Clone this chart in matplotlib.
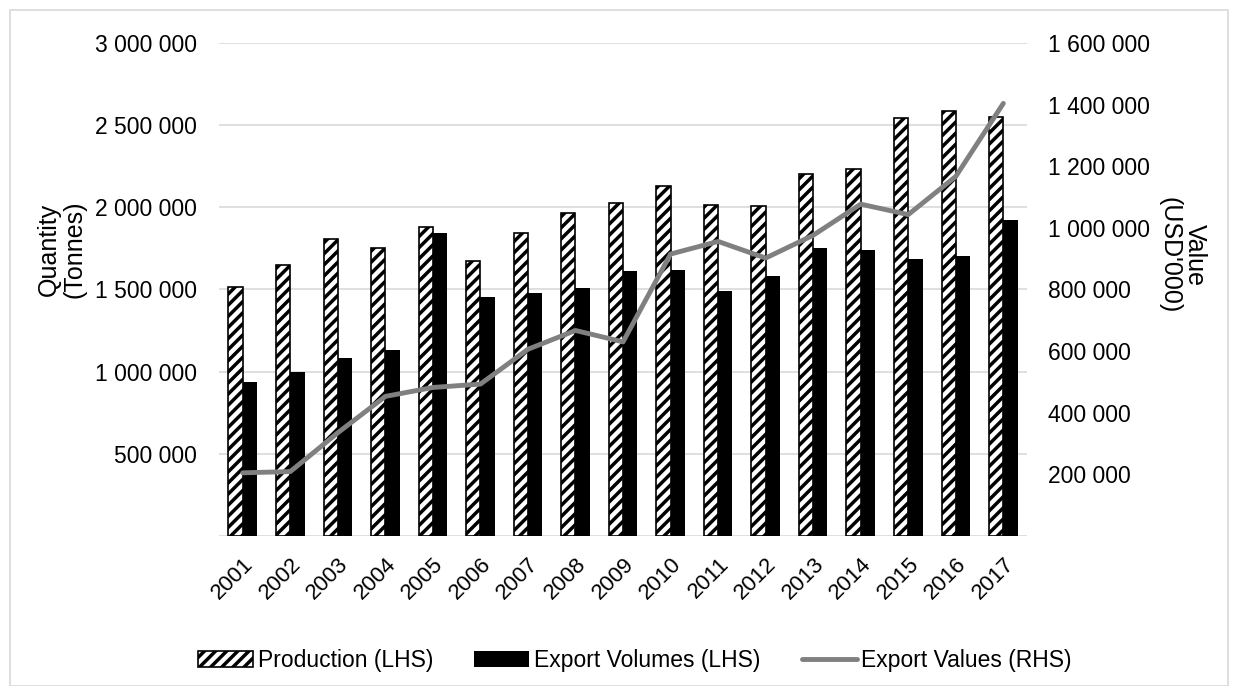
import matplotlib.pyplot as plt
import matplotlib.patches as mpatches
from matplotlib.lines import Line2D
from matplotlib.ticker import FuncFormatter
import numpy as np

plt.rcParams['font.family'] = ['Liberation Sans', 'DejaVu Sans']
plt.rcParams['hatch.linewidth'] = 2.5

years = ['2001', '2002', '2003', '2004', '2005', '2006', '2007', '2008', '2009',
         '2010', '2011', '2012', '2013', '2014', '2015', '2016', '2017']
production = [1518000, 1650000, 1807000, 1753000, 1880000, 1676000, 1842000, 1963000, 2028000,
              2127000, 2012000, 2008000, 2202000, 2232000, 2545000, 2584000, 2550000]
export_volumes = [936000, 995000, 1086000, 1130000, 1842000, 1454000, 1480000, 1510000, 1611000,
                  1620000, 1488000, 1581000, 1753000, 1743000, 1684000, 1702000, 1925000]
export_values = [205000, 209000, 335000, 453000, 482000, 493000, 606000, 667000, 630000,
                 915000, 956000, 902000, 976000, 1077000, 1043000, 1167000, 1404000]


def spaced(v, pos):
    if v == 0:
        return ''
    return f'{int(v):,}'.replace(',', ' ')


fig = plt.figure(figsize=(12.33, 6.86), dpi=100)
ax = fig.add_axes([0.1776, 0.2187, 0.833 - 0.1776, 0.9373 - 0.2187])
ax2 = ax.twinx()

x = np.arange(len(years))
w = 0.3
ax.bar(x - w / 2, production, w, color='white', edgecolor='black', hatch='///', linewidth=1.2, zorder=2)
ax.bar(x + w / 2, export_volumes, w, color='black', zorder=2)
ax2.plot(x, export_values, color='#808080', linewidth=3.5, solid_capstyle='round')

ax.set_xlim(-0.5, len(years) - 0.5)
ax.set_ylim(0, 3000000)
ax.set_yticks(np.arange(0, 3000001, 500000))
ax.yaxis.set_major_formatter(FuncFormatter(spaced))
ax2.set_ylim(0, 1600000)
ax2.set_yticks(np.arange(0, 1600001, 200000))
ax2.yaxis.set_major_formatter(FuncFormatter(spaced))

ax.grid(axis='y', color='#d9d9d9', linewidth=1.2, zorder=0)
ax.set_axisbelow(True)
for a in (ax, ax2):
    for s in a.spines.values():
        s.set_visible(False)
    a.tick_params(length=0, labelsize=16.5, colors='black')
ax.tick_params(axis='y', pad=16)
ax2.tick_params(axis='y', pad=15)

ax.set_xticks(x)
ax.set_xticklabels(years, rotation=45, ha='right', rotation_mode='anchor', fontsize=16)
ax.tick_params(axis='x', pad=13)

fig.text(0.05, 0.636, 'Quantity\n(Tonnes)', rotation=90, ha='center', va='center', fontsize=18,
         linespacing=1.05)
fig.text(0.959, 0.628, "Value\n(USD'000)", rotation=-90, ha='center', va='center', fontsize=18,
         linespacing=1.05)

handles = [mpatches.Patch(facecolor='white', edgecolor='black', hatch='///', linewidth=1.2),
           mpatches.Patch(facecolor='black'),
           Line2D([0], [0], color='#808080', linewidth=3.5, solid_capstyle='round')]
labels = ['Production (LHS)', 'Export Volumes (LHS)', 'Export Values (RHS)']
fig.legend(handles, labels, loc='center', bbox_to_anchor=(0.515, 0.037), ncol=3, frameon=False,
           fontsize=16.5, handlelength=2.4, handletextpad=0.2, columnspacing=1.8)

fig.patches.append(mpatches.Rectangle((10 / 1233, 0), 1 - 15 / 1233, 1 - 10 / 686,
                                      transform=fig.transFigure, fill=False,
                                      edgecolor='#d9d9d9', linewidth=1.2))

fig.savefig('out.png', dpi=100)
